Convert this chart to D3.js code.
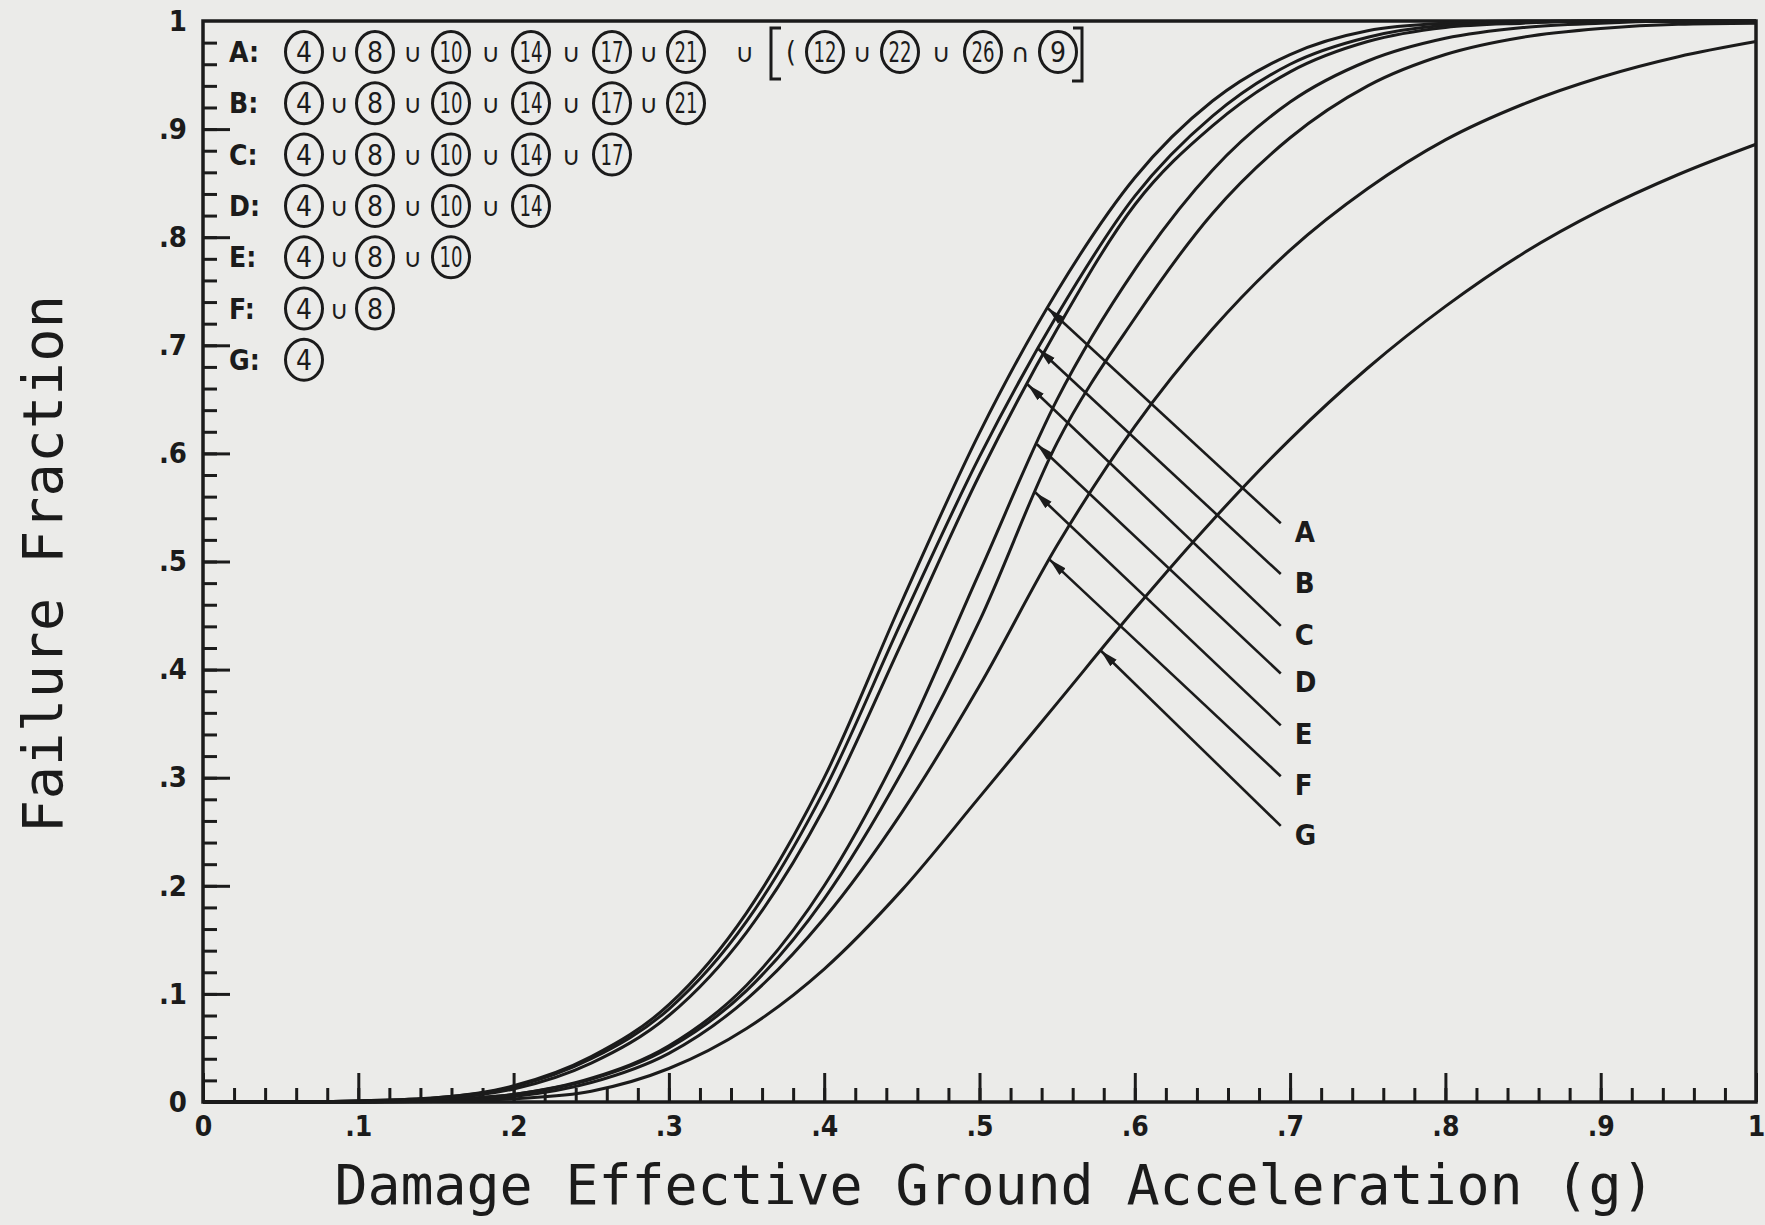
<!DOCTYPE html>
<html>
<head>
<meta charset="utf-8">
<script src="https://cdn.jsdelivr.net/npm/d3@7"></script>
<style>
  body { margin: 0; background: #ebebe9; }
  svg { display: block; }
</style>
</head>
<body>
<div id="chart"></div>
<script>
// ---- data ----
const accel = [0, 0.05, 0.10, 0.15, 0.20, 0.25, 0.30, 0.35, 0.40, 0.45, 0.50,
               0.55, 0.60, 0.65, 0.70, 0.75, 0.80, 0.85, 0.90, 0.95, 1.00]

const curveA = [0, 0, 0.001, 0.004, 0.015, 0.042, 0.090, 0.175, 0.300, 0.463, 0.619,
                0.750, 0.855, 0.926, 0.969, 0.991, 0.998, 1.0, 1.0, 1.0, 1.0]
const curveB = [0, 0, 0.001, 0.004, 0.014, 0.040, 0.086, 0.167, 0.288, 0.445, 0.597,
                0.728, 0.838, 0.912, 0.960, 0.985, 0.996, 0.999, 1.0, 1.0, 1.0]
const curveC = [0, 0, 0.001, 0.003, 0.012, 0.036, 0.080, 0.157, 0.272, 0.425, 0.580,
                0.715, 0.830, 0.903, 0.953, 0.981, 0.994, 0.998, 1.0, 1.0, 1.0]
const curveD = [0, 0, 0, 0.002, 0.007, 0.022, 0.052, 0.108, 0.200, 0.330, 0.490,
                0.650, 0.770, 0.862, 0.925, 0.963, 0.984, 0.994, 0.998, 1.0, 1.0]
const curveE = [0, 0, 0, 0.002, 0.007, 0.021, 0.050, 0.103, 0.188, 0.305, 0.445,
                0.610, 0.725, 0.822, 0.892, 0.940, 0.969, 0.985, 0.993, 0.997, 0.998]
const curveF = [0, 0, 0, 0.001, 0.005, 0.018, 0.045, 0.095, 0.170, 0.268, 0.385,
                0.515, 0.625, 0.715, 0.788, 0.845, 0.890, 0.923, 0.948, 0.967, 0.981]
const curveG = [0, 0, 0, 0.0005, 0.003, 0.010, 0.031, 0.068, 0.123, 0.196, 0.282,
                0.369, 0.456, 0.538, 0.613, 0.679, 0.736, 0.785, 0.825, 0.858, 0.886]

const curveNames = ['A', 'B', 'C', 'D', 'E', 'F', 'G']
const curveValues = [curveA, curveB, curveC, curveD, curveE, curveF, curveG]

// where each arrow touches its curve (acceleration) and where its label sits (fraction)
const arrowTipX = [0.544, 0.538, 0.531, 0.537, 0.536, 0.545, 0.578]
const arrowLabelY = [0.528, 0.481, 0.433, 0.389, 0.341, 0.294, 0.248]
const arrowLabelX = 0.703

// legend: components (circled numbers) combined for each case
const legendComponents = [
    [4, 8, 10, 14, 17, 21],
    [4, 8, 10, 14, 17, 21],
    [4, 8, 10, 14, 17],
    [4, 8, 10, 14],
    [4, 8, 10],
    [4, 8],
    [4]
]
const bracketComponents = [12, 22, 26, 9]
const bracketOps = ['\u222A', '\u222A', '\u2229']

const xTitle = 'Damage Effective Ground Acceleration (g)'
const yTitle = 'Failure Fraction'

// ---- layout ----
const W = 1765, H = 1225
const margin = { top: 21, right: 9, bottom: 123, left: 203 }
const ink = '#1b1b1b'

const svg = d3.select('#chart').append('svg')
    .attr('width', W)
    .attr('height', H)

svg.append('rect').attr('width', W).attr('height', H).attr('fill', '#ebebe9')

const x = d3.scaleLinear().domain([0, 1]).range([margin.left, W - margin.right])
const y = d3.scaleLinear().domain([0, 1]).range([H - margin.bottom, margin.top])

const fmt = d => d === 0 ? '0' : d === 1 ? '1' : d3.format('.1f')(d).replace(/^0/, '')

// minor + major ticks pointing into the plot
function ticks(gen, size, values) {
    return g => g.call(gen.tickValues(values).tickSize(size).tickFormat(''))
        .call(g => g.select('.domain').remove())
        .call(g => g.selectAll('line').attr('stroke', ink).attr('stroke-width', 3))
}
const minorVals = d3.range(0, 51).map(i => i / 50)
const majorVals = d3.range(0, 11).map(i => i / 10)

svg.append('g').attr('transform', `translate(0,${y(0)})`).call(ticks(d3.axisTop(x), 14, minorVals))
svg.append('g').attr('transform', `translate(0,${y(0)})`).call(ticks(d3.axisTop(x), 29, majorVals))
svg.append('g').attr('transform', `translate(${x(0)},0)`).call(ticks(d3.axisRight(y), 14, minorVals.slice(0, 50)))
svg.append('g').attr('transform', `translate(${x(0)},0)`).call(ticks(d3.axisRight(y), 27, majorVals.slice(0, 10)))

// tick labels
const labelFont = 'DejaVu Sans Condensed, DejaVu Sans, sans-serif'
svg.append('g').attr('transform', `translate(0,${y(0)})`)
    .call(d3.axisBottom(x).tickValues(majorVals).tickSize(0).tickPadding(14).tickFormat(fmt))
    .call(g => g.select('.domain').remove())
    .call(g => g.selectAll('text').attr('fill', ink).attr('font-family', labelFont)
        .attr('font-weight', 'bold').attr('font-size', 28))

svg.append('g').attr('transform', `translate(${x(0) - 16},0)`)
    .call(d3.axisLeft(y).tickValues(majorVals).tickSize(0).tickPadding(0).tickFormat(fmt))
    .call(g => g.select('.domain').remove())
    .call(g => g.selectAll('text').attr('fill', ink).attr('font-family', labelFont)
        .attr('font-weight', 'bold').attr('font-size', 29))

// frame
svg.append('rect')
    .attr('x', x(0)).attr('y', y(1))
    .attr('width', x(1) - x(0)).attr('height', y(0) - y(1))
    .attr('fill', 'none').attr('stroke', ink).attr('stroke-width', 3.5)

// axis titles
const titleFont = 'DejaVu Sans Mono, monospace'
svg.append('text')
    .attr('x', (x(0) + x(1)) / 2 + 15).attr('y', 1204)
    .attr('text-anchor', 'middle')
    .attr('font-family', titleFont).attr('font-size', 55).attr('fill', ink)
    .attr('textLength', 1320).attr('lengthAdjust', 'spacing')
    .text(xTitle)

svg.append('text')
    .attr('transform', `translate(62,${564}) rotate(-90)`)
    .attr('text-anchor', 'middle')
    .attr('font-family', titleFont).attr('font-size', 55).attr('fill', ink)
    .attr('textLength', 538).attr('lengthAdjust', 'spacing')
    .text(yTitle)

// curves
const series = curveNames.map((name, i) => ({
    name,
    points: accel.map((a, j) => [a, curveValues[i][j]])
}))

const line = d3.line()
    .x(d => x(d[0]))
    .y(d => y(d[1]))
    .curve(d3.curveMonotoneX)

svg.append('g')
    .selectAll('path')
    .data(series).enter()
    .append('path')
    .attr('d', d => line(d.points))
    .attr('fill', 'none')
    .attr('stroke', ink)
    .attr('stroke-width', 3)

// arrows from labels to curves
svg.append('defs').append('marker')
    .attr('id', 'head')
    .attr('viewBox', '-18 -5 19 10')
    .attr('refX', 0).attr('refY', 0)
    .attr('markerWidth', 19).attr('markerHeight', 10)
    .attr('markerUnits', 'userSpaceOnUse')
    .attr('orient', 'auto')
    .append('path').attr('d', 'M0,0L-18,-4.5L-18,4.5Z').attr('fill', ink)

const interp = (vals, a) => {
    const k = d3.bisectRight(accel, a) - 1
    const t = (a - accel[k]) / (accel[k + 1] - accel[k])
    return vals[k] + t * (vals[k + 1] - vals[k])
}

const arrows = series.map((s, i) => ({
    name: s.name,
    tip: [arrowTipX[i], interp(curveValues[i], arrowTipX[i])],
    label: [arrowLabelX, arrowLabelY[i]]
}))

const ag = svg.append('g')
ag.selectAll('line')
    .data(arrows).enter()
    .append('line')
    .attr('x1', d => x(d.label[0]) - 14)
    .attr('y1', d => y(d.label[1]) - 8)
    .attr('x2', d => x(d.tip[0]))
    .attr('y2', d => y(d.tip[1]))
    .attr('stroke', ink)
    .attr('stroke-width', 2.6)
    .attr('marker-end', 'url(#head)')

ag.selectAll('text')
    .data(arrows).enter()
    .append('text')
    .attr('x', d => x(d.label[0]))
    .attr('y', d => y(d.label[1]) + 11)
    .attr('font-family', labelFont).attr('font-weight', 'bold')
    .attr('font-size', 29).attr('fill', ink)
    .text(d => d.name)

// legend of circled component numbers
const slotX = [304, 375, 451, 531, 612, 686]
const rowY0 = 52, rowStep = 51.3

const legend = svg.append('g').attr('fill', ink)

function circled(g, cx, cy, n) {
    g.append('ellipse')
        .attr('cx', cx).attr('cy', cy).attr('rx', 18.5).attr('ry', 20.5)
        .attr('fill', 'none').attr('stroke', ink).attr('stroke-width', 3)
    g.append('text')
        .attr('x', cx).attr('y', cy + 10)
        .attr('text-anchor', 'middle')
        .attr('font-family', labelFont).attr('font-size', 28)
        .attr('textLength', n > 9 ? 23 : null)
        .attr('lengthAdjust', 'spacingAndGlyphs')
        .text(n)
}
function op(g, cx, cy, s) {
    g.append('text')
        .attr('x', cx).attr('y', cy + 10)
        .attr('text-anchor', 'middle')
        .attr('font-family', 'DejaVu Sans, sans-serif').attr('font-size', 26)
        .text(s)
}

curveNames.forEach((name, r) => {
    const cy = rowY0 + r * rowStep
    const g = legend.append('g')
    g.append('text')
        .attr('x', 229).attr('y', cy + 10)
        .attr('font-family', labelFont).attr('font-weight', 'bold')
        .attr('font-size', 28)
        .text(name + ':')
    legendComponents[r].forEach((n, i) => {
        circled(g, slotX[i], cy, n)
        if (i > 0) op(g, (slotX[i] + slotX[i - 1]) / 2, cy, '\u222A')
    })
})

// extra bracketed term on row A
{
    const cy = rowY0
    const g = legend.append('g')
    const bx = [825, 900, 983, 1058]
    op(g, 745, cy, '\u222A')
    g.append('path')
        .attr('d', `M781,${cy - 24}H771V${cy + 27}H781`)
        .attr('fill', 'none').attr('stroke', ink).attr('stroke-width', 3)
    g.append('text').attr('x', 786).attr('y', cy + 10)
        .attr('font-family', labelFont).attr('font-size', 28).text('(')
    bracketComponents.forEach((n, i) => {
        circled(g, bx[i], cy, n)
        if (i > 0) op(g, (bx[i] + bx[i - 1]) / 2, cy, bracketOps[i - 1])
    })
    g.append('path')
        .attr('d', `M1073,${cy - 24}H1082V${cy + 29}H1072`)
        .attr('fill', 'none').attr('stroke', ink).attr('stroke-width', 3)
}
</script>
</body>
</html>
